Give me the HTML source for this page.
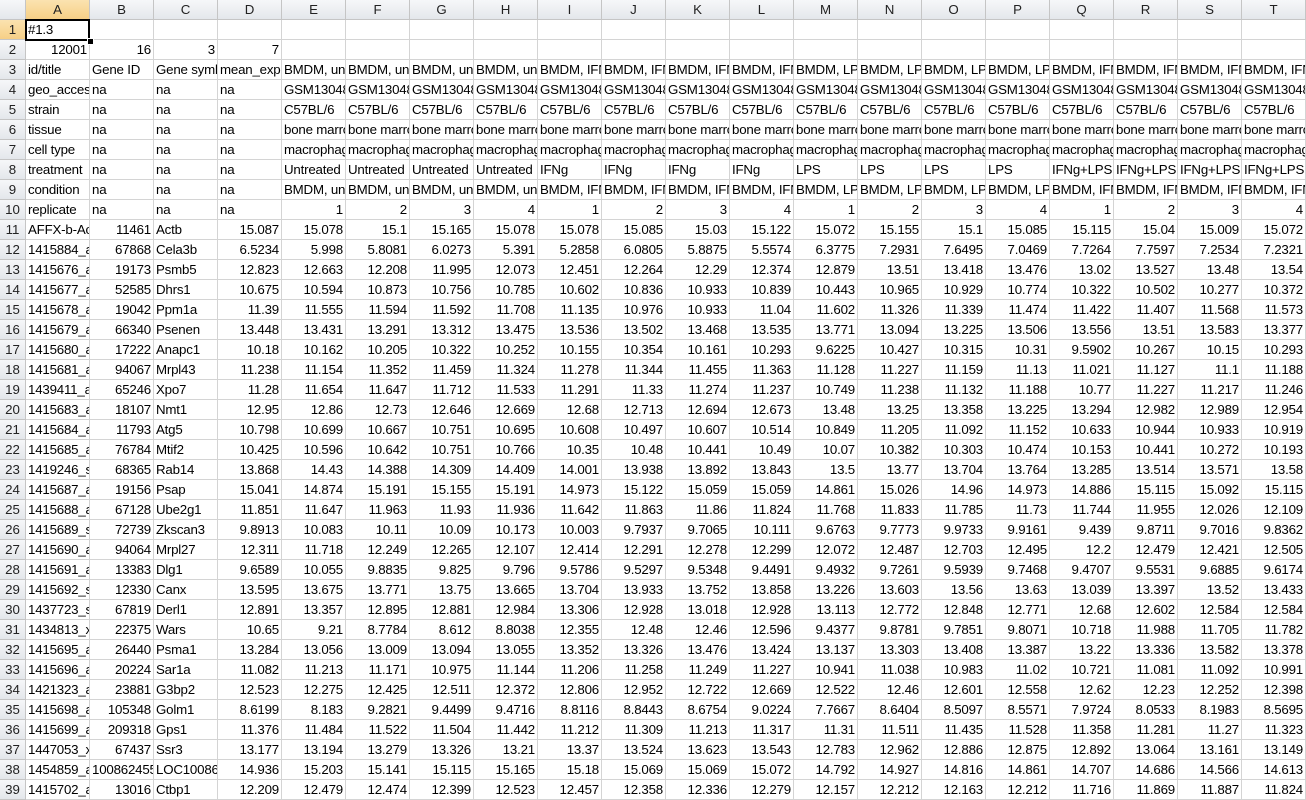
<!DOCTYPE html>
<html><head><meta charset="utf-8">
<style>
html,body{margin:0;padding:0;background:#fff;width:1306px;height:800px;overflow:hidden}
#sheet{position:relative;width:1306px;height:800px;font-family:"Liberation Sans",Arial,sans-serif;font-size:13.3px;letter-spacing:-0.2px;color:#000}
.c{position:absolute;box-sizing:border-box;height:20px;line-height:20px;border-right:1px solid #d4d4d4;border-bottom:1px solid #d4d4d4;overflow:hidden;white-space:nowrap;padding:0 2px}
.r{text-align:right}
.h{background:linear-gradient(#f6f7f9,#e4e7eb);border-right:1px solid #c5c5c5;border-bottom:1px solid #c5c5c5;text-align:center;color:#222;padding:0;letter-spacing:0}
.sel{background:linear-gradient(#fbe3b0,#f6cf86);}
#selbox{position:absolute;left:25px;top:19px;width:65px;height:22px;box-sizing:border-box;border:2px solid #000;}
#handle{position:absolute;left:87px;top:38px;width:5px;height:5px;background:#000;border:1px solid #fff}
</style></head>
<body>
<div id="sheet"></div>
<script>
const colLetters=["A","B","C","D","E","F","G","H","I","J","K","L","M","N","O","P","Q","R","S","T"];
const metaA=["id/title","geo_accession","strain","tissue","cell type","treatment","condition","replicate"];
const metaB=["Gene ID","na","na","na","na","na","na","na"];
const metaC=["Gene symbol","na","na","na","na","na","na","na"];
const metaD=["mean_expression","na","na","na","na","na","na","na"];
const groups=["BMDM, untreated","BMDM, IFNg","BMDM, LPS","BMDM, IFNg+LPS"];
const treat=["Untreated","IFNg","LPS","IFNg+LPS"];
const gsm=["GSM1304800","GSM1304801","GSM1304802","GSM1304803","GSM1304804","GSM1304805","GSM1304806","GSM1304807","GSM1304808","GSM1304809","GSM1304810","GSM1304811","GSM1304812","GSM1304813","GSM1304814","GSM1304815"];
const dataRows=[
["AFFX-b-ActinMur","11461","Actb","15.087","15.078","15.1","15.165","15.078","15.078","15.085","15.03","15.122","15.072","15.155","15.1","15.085","15.115","15.04","15.009","15.072"],
["1415884_at","67868","Cela3b","6.5234","5.998","5.8081","6.0273","5.391","5.2858","6.0805","5.8875","5.5574","6.3775","7.2931","7.6495","7.0469","7.7264","7.7597","7.2534","7.2321"],
["1415676_a_at","19173","Psmb5","12.823","12.663","12.208","11.995","12.073","12.451","12.264","12.29","12.374","12.879","13.51","13.418","13.476","13.02","13.527","13.48","13.54"],
["1415677_at","52585","Dhrs1","10.675","10.594","10.873","10.756","10.785","10.602","10.836","10.933","10.839","10.443","10.965","10.929","10.774","10.322","10.502","10.277","10.372"],
["1415678_at","19042","Ppm1a","11.39","11.555","11.594","11.592","11.708","11.135","10.976","10.933","11.04","11.602","11.326","11.339","11.474","11.422","11.407","11.568","11.573"],
["1415679_at","66340","Psenen","13.448","13.431","13.291","13.312","13.475","13.536","13.502","13.468","13.535","13.771","13.094","13.225","13.506","13.556","13.51","13.583","13.377"],
["1415680_at","17222","Anapc1","10.18","10.162","10.205","10.322","10.252","10.155","10.354","10.161","10.293","9.6225","10.427","10.315","10.31","9.5902","10.267","10.15","10.293"],
["1415681_at","94067","Mrpl43","11.238","11.154","11.352","11.459","11.324","11.278","11.344","11.455","11.363","11.128","11.227","11.159","11.13","11.021","11.127","11.1","11.188"],
["1439411_at","65246","Xpo7","11.28","11.654","11.647","11.712","11.533","11.291","11.33","11.274","11.237","10.749","11.238","11.132","11.188","10.77","11.227","11.217","11.246"],
["1415683_at","18107","Nmt1","12.95","12.86","12.73","12.646","12.669","12.68","12.713","12.694","12.673","13.48","13.25","13.358","13.225","13.294","12.982","12.989","12.954"],
["1415684_at","11793","Atg5","10.798","10.699","10.667","10.751","10.695","10.608","10.497","10.607","10.514","10.849","11.205","11.092","11.152","10.633","10.944","10.933","10.919"],
["1415685_at","76784","Mtif2","10.425","10.596","10.642","10.751","10.766","10.35","10.48","10.441","10.49","10.07","10.382","10.303","10.474","10.153","10.441","10.272","10.193"],
["1419246_s_at","68365","Rab14","13.868","14.43","14.388","14.309","14.409","14.001","13.938","13.892","13.843","13.5","13.77","13.704","13.764","13.285","13.514","13.571","13.58"],
["1415687_a_at","19156","Psap","15.041","14.874","15.191","15.155","15.191","14.973","15.122","15.059","15.059","14.861","15.026","14.96","14.973","14.886","15.115","15.092","15.115"],
["1415688_at","67128","Ube2g1","11.851","11.647","11.963","11.93","11.936","11.642","11.863","11.86","11.824","11.768","11.833","11.785","11.73","11.744","11.955","12.026","12.109"],
["1415689_s_at","72739","Zkscan3","9.8913","10.083","10.11","10.09","10.173","10.003","9.7937","9.7065","10.111","9.6763","9.7773","9.9733","9.9161","9.439","9.8711","9.7016","9.8362"],
["1415690_at","94064","Mrpl27","12.311","11.718","12.249","12.265","12.107","12.414","12.291","12.278","12.299","12.072","12.487","12.703","12.495","12.2","12.479","12.421","12.505"],
["1415691_at","13383","Dlg1","9.6589","10.055","9.8835","9.825","9.796","9.5786","9.5297","9.5348","9.4491","9.4932","9.7261","9.5939","9.7468","9.4707","9.5531","9.6885","9.6174"],
["1415692_s_at","12330","Canx","13.595","13.675","13.771","13.75","13.665","13.704","13.933","13.752","13.858","13.226","13.603","13.56","13.63","13.039","13.397","13.52","13.433"],
["1437723_s_at","67819","Derl1","12.891","13.357","12.895","12.881","12.984","13.306","12.928","13.018","12.928","13.113","12.772","12.848","12.771","12.68","12.602","12.584","12.584"],
["1434813_x_at","22375","Wars","10.65","9.21","8.7784","8.612","8.8038","12.355","12.48","12.46","12.596","9.4377","9.8781","9.7851","9.8071","10.718","11.988","11.705","11.782"],
["1415695_at","26440","Psma1","13.284","13.056","13.009","13.094","13.055","13.352","13.326","13.476","13.424","13.137","13.303","13.408","13.387","13.22","13.336","13.582","13.378"],
["1415696_at","20224","Sar1a","11.082","11.213","11.171","10.975","11.144","11.206","11.258","11.249","11.227","10.941","11.038","10.983","11.02","10.721","11.081","11.092","10.991"],
["1421323_a_at","23881","G3bp2","12.523","12.275","12.425","12.511","12.372","12.806","12.952","12.722","12.669","12.522","12.46","12.601","12.558","12.62","12.23","12.252","12.398"],
["1415698_at","105348","Golm1","8.6199","8.183","9.2821","9.4499","9.4716","8.8116","8.8443","8.6754","9.0224","7.7667","8.6404","8.5097","8.5571","7.9724","8.0533","8.1983","8.5695"],
["1415699_a_at","209318","Gps1","11.376","11.484","11.522","11.504","11.442","11.212","11.309","11.213","11.317","11.31","11.511","11.435","11.528","11.358","11.281","11.27","11.323"],
["1447053_x_at","67437","Ssr3","13.177","13.194","13.279","13.326","13.21","13.37","13.524","13.623","13.543","12.783","12.962","12.886","12.875","12.892","13.064","13.161","13.149"],
["1454859_a_at","100862455","LOC100862455","14.936","15.203","15.141","15.115","15.165","15.18","15.069","15.069","15.072","14.792","14.927","14.816","14.861","14.707","14.686","14.566","14.613"],
["1415702_a_at","13016","Ctbp1","12.209","12.479","12.474","12.399","12.523","12.457","12.358","12.336","12.279","12.157","12.212","12.163","12.212","11.716","11.869","11.887","11.824"]
];
const sheet=document.getElementById('sheet');
const RH=26, CW=64, RW=20;
function colX(i){return RH+i*CW-1;}
function add(x,y,w,txt,cls){
  const d=document.createElement('div');
  d.className='c '+(cls||'');
  d.style.left=x+'px';d.style.top=y+'px';d.style.width=w+'px';
  d.textContent=txt;
  sheet.appendChild(d);return d;
}
const corner=add(0,0,RH,'','h');


for(let i=0;i<colLetters.length;i++){
  const h=add(colX(i)+1,0,CW,colLetters[i],'h'+(i===0?' sel':''));
  
  
}
for(let r=1;r<=39;r++){
  const h=add(0,r*RW,RH,String(r),'h'+(r===1?' sel':''));
  
  
}
function cell(r,ci,txt,right){
  const d=add(colX(ci)+1,r*RW,CW,txt,right?'r':'');
  
  
  return d;
}
cell(1,0,'#1.3',false);
for(let i=1;i<20;i++) cell(1,i,'',false);
const row2=["12001","16","3","7"];
for(let i=0;i<20;i++) cell(2,i,i<4?row2[i]:'',true);
for(let k=0;k<8;k++){
  const r=3+k;
  cell(r,0,metaA[k],false);
  cell(r,1,metaB[k],false);
  cell(r,2,metaC[k],false);
  cell(r,3,metaD[k],false);
  for(let j=0;j<16;j++){
    const g=Math.floor(j/4), rep=j%4+1;
    let t='',right=false;
    if(k===0||k===6) t=groups[g];
    else if(k===1) t=gsm[j];
    else if(k===2) t='C57BL/6';
    else if(k===3) t='bone marrow';
    else if(k===4) t='macrophage';
    else if(k===5) t=treat[g];
    else if(k===7){t=String(rep);right=true;}
    cell(r,4+j,t,right);
  }
}
for(let k=0;k<dataRows.length;k++){
  const r=11+k;
  for(let i=0;i<20;i++){
    cell(r,i,dataRows[k][i],!(i===0||i===2));
  }
}
const sb=document.createElement('div');sb.id='selbox';


sheet.appendChild(sb);
const hd=document.createElement('div');hd.id='handle';


sheet.appendChild(hd);
</script>
</body></html>
